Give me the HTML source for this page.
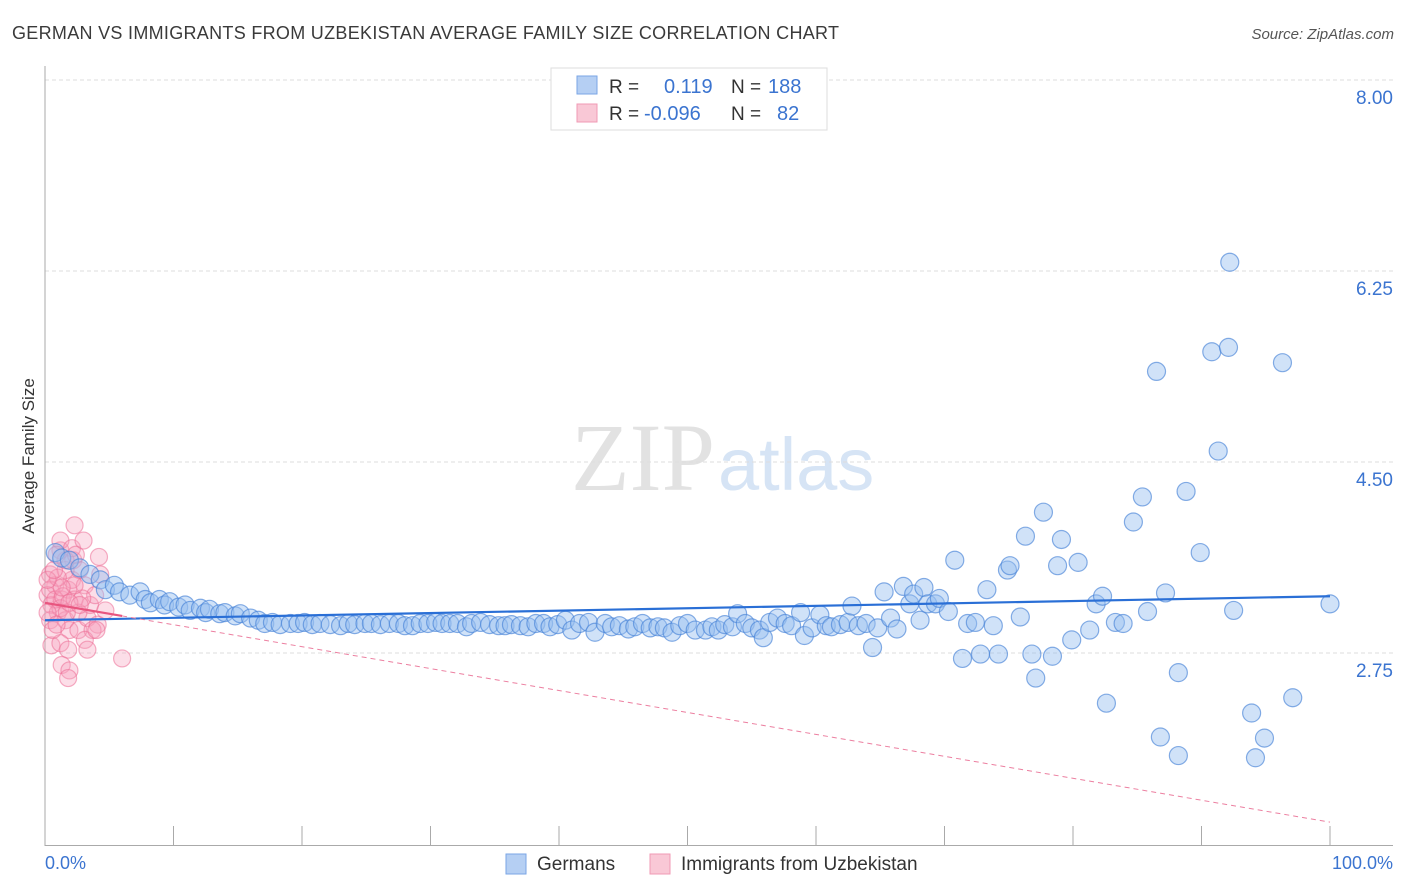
<!DOCTYPE html>
<html><head><meta charset="utf-8"><style>
body{margin:0;background:#fff;font-family:"Liberation Sans",sans-serif}
svg{display:block}
</style></head><body>
<svg width="1406" height="892" viewBox="0 0 1406 892">
<text x="12" y="39" font-size="18" fill="#3a3a3a" letter-spacing="0.3">GERMAN VS IMMIGRANTS FROM UZBEKISTAN AVERAGE FAMILY SIZE CORRELATION CHART</text>
<text x="1394" y="39" font-size="15" fill="#555" font-style="italic" text-anchor="end">Source: ZipAtlas.com</text>
<text x="715" y="490" font-size="96" fill="#e2e2e2" text-anchor="end" font-family="Liberation Serif">ZIP</text>
<text x="718" y="490" font-size="74" fill="#d6e4f5">atlas</text>
<g id="grid"></g>
<line x1="45" y1="66" x2="45" y2="846" stroke="#aaa"/>
<line x1="45" y1="845.5" x2="1393" y2="845.5" stroke="#aaa"/>
<g id="xticks"></g>
<text x="34" y="456" font-size="17" fill="#333" text-anchor="middle" transform="rotate(-90 34 456)">Average Family Size</text>
<text x="45" y="869" font-size="18" fill="#3b74d0">0.0%</text>
<text x="1393" y="869" font-size="18" fill="#3b74d0" text-anchor="end">100.0%</text>
<g id="pink"></g><g id="blue"></g><g id="trends"></g>
<g>
<rect x="551" y="68" width="276" height="62" fill="#fff" stroke="#ddd"/>
<rect x="577" y="76" width="20" height="18" fill="#b5cff3" stroke="#7aa6e6"/>
<rect x="577" y="104" width="20" height="18" fill="#f9c8d6" stroke="#f09ab4"/>
<text x="609" y="93" font-size="19" fill="#333">R =</text>
<text x="664" y="93" font-size="20" fill="#3b74d0">0.119</text>
<text x="731" y="93" font-size="19" fill="#333">N =</text>
<text x="768" y="93" font-size="20" fill="#3b74d0">188</text>
<text x="609" y="120" font-size="19" fill="#333">R =</text>
<text x="644" y="120" font-size="20" fill="#3b74d0">-0.096</text>
<text x="731" y="120" font-size="19" fill="#333">N =</text>
<text x="777" y="120" font-size="20" fill="#3b74d0">82</text>
</g>
<g>
<rect x="506" y="854" width="20" height="20" fill="#b5cff3" stroke="#7aa6e6"/>
<text x="537" y="870" font-size="19" fill="#333">Germans</text>
<rect x="650" y="854" width="20" height="20" fill="#f9c8d6" stroke="#f09ab4"/>
<text x="681" y="870" font-size="19" fill="#333">Immigrants from Uzbekistan</text>
</g>
</svg>
<script>
const yTicks=[8.00,6.25,4.50,2.75];
const yTickLabels=["8.00","6.25","4.50","2.75"];
const xTicks=[0,10,20,30,40,50,60,70,80,90,100];
const blueX=[0.8,1.3,1.9,2.7,3.5,4.3,4.7,5.4,5.8,6.6,7.4,7.8,8.2,8.9,9.3,9.7,10.4,10.9,11.3,12.1,12.5,12.8,13.6,14.0,14.8,15.2,16.0,16.6,17.1,17.7,18.3,19.1,19.7,20.2,20.8,21.4,22.2,23.0,23.6,24.1,24.9,25.4,26.1,26.8,27.5,28.0,28.6,29.2,29.8,30.4,30.9,31.5,32.1,32.8,33.2,33.9,34.6,35.3,35.8,36.3,37.0,37.6,38.2,38.8,39.3,39.9,40.5,41.0,41.6,42.3,42.8,43.6,44.1,44.7,45.4,45.9,46.5,47.1,47.7,48.2,48.8,49.4,50.0,50.6,51.4,51.9,52.4,52.9,53.5,53.9,54.5,55.0,55.6,55.9,56.4,57.0,57.6,58.1,58.8,59.1,59.7,60.3,60.8,61.2,61.9,62.5,62.8,63.3,63.9,64.4,64.8,65.3,65.8,66.3,66.8,67.3,67.6,68.1,68.4,68.7,69.3,69.6,70.3,70.8,71.4,71.8,72.4,72.8,73.3,73.8,74.2,74.9,75.1,75.9,76.3,76.8,77.1,77.7,78.4,78.8,79.1,79.9,80.4,81.3,81.8,82.3,82.6,83.3,83.9,84.7,85.4,85.8,86.5,86.8,87.2,88.2,88.2,88.8,89.9,90.8,91.3,92.1,92.2,92.5,93.9,94.2,94.9,96.3,97.1,100];
const blueY=[3.67,3.62,3.60,3.53,3.47,3.42,3.33,3.37,3.31,3.28,3.31,3.24,3.21,3.24,3.19,3.22,3.17,3.19,3.14,3.16,3.12,3.15,3.11,3.12,3.09,3.11,3.07,3.05,3.02,3.03,3.01,3.02,3.02,3.03,3.01,3.02,3.01,3.00,3.02,3.01,3.02,3.02,3.01,3.02,3.02,3.00,3.00,3.02,3.02,3.03,3.02,3.02,3.02,2.99,3.02,3.03,3.01,3.00,3.00,3.01,3.00,2.99,3.02,3.02,2.99,3.01,3.05,2.96,3.02,3.03,2.94,3.02,2.99,3.00,2.97,2.99,3.02,2.98,2.99,2.98,2.94,3.00,3.02,2.96,2.96,2.99,2.96,3.01,2.99,3.11,3.02,2.98,2.96,2.89,3.03,3.07,3.02,3.00,3.12,2.91,2.98,3.10,3.00,2.99,3.01,3.03,3.18,3.00,3.02,2.80,2.98,3.31,3.07,2.97,3.36,3.20,3.29,3.05,3.35,3.20,3.20,3.25,3.13,3.60,2.70,3.02,3.03,2.74,3.33,3.00,2.74,3.51,3.55,3.08,3.82,2.74,2.52,4.04,2.72,3.55,3.79,2.87,3.58,2.96,3.20,3.27,2.29,3.03,3.02,3.95,4.18,3.13,5.33,1.98,3.30,1.81,2.57,4.23,3.67,5.51,4.60,5.55,6.33,3.14,2.20,1.79,1.97,5.41,2.34,3.20];
const pinkX=[2.3,4.2,1.2,2.2,0.4,0.8,0.2,0.5,1.0,0.4,1.3,1.8,2.1,2.7,3.1,1.6,1.9,2.6,3.3,3.5,4.3,3.9,4.1,3.7,0.5,1.2,1.8,1.3,1.9,1.8,3.1,3.3,4.0,6.0,1.2,1.6,0.4,0.8,1.2,1.4,2.3,2.6,2.9,0.2,0.6,0.9,1.7,1.9,2.3,2.7,4.7,1.0,1.3,0.2,0.7,1.6,2.1,2.4,0.9,3.0];
const pinkY=[3.92,3.63,3.69,3.60,3.47,3.37,3.28,3.19,3.12,3.05,3.24,3.33,3.42,3.51,3.37,3.05,2.96,2.96,3.07,3.19,3.47,3.28,3.01,2.96,2.82,2.84,2.78,2.64,2.59,2.52,2.87,2.78,2.96,2.70,3.78,3.51,3.33,3.24,3.16,3.27,3.24,3.12,3.25,3.12,2.96,3.01,3.12,3.21,3.37,3.19,3.14,3.44,3.35,3.42,3.51,3.60,3.71,3.65,3.65,3.78];
const blueTrend=[[0,3.05],[100,3.27]];
const pinkTrend=[[0,3.21],[100,1.20]];
const pinkSolidEnd=6;
const NS="http://www.w3.org/2000/svg";
function xs(p){return 45+p*12.85;}
function ys(v){return 80+(8-v)*109.14;}
function mk(t,a,parent){const e=document.createElementNS(NS,t);for(const k in a)e.setAttribute(k,a[k]);parent.appendChild(e);return e;}
const grid=document.getElementById('grid');
yTicks.forEach((v,i)=>{
 const l=mk('line',{x1:45,x2:1393,y1:ys(v),y2:ys(v),stroke:'#ddd','stroke-dasharray':'4,3'},grid);
 
 
 const t=mk('text',{x:1393,y:ys(v)+24,'font-size':19,fill:'#3b74d0','text-anchor':'end'},grid);
 t.textContent=yTickLabels[i];
 
 
});
const xt=document.getElementById('xticks');
xTicks.forEach(p=>{
 const l=mk('line',{x1:xs(p),x2:xs(p),y1:826,y2:846,stroke:'#aaa'},xt);
 
 
});
const pg=document.getElementById('pink');
pinkX.forEach((p,i)=>{
 const c=mk('circle',{cx:xs(p),cy:ys(pinkY[i]),r:8.5,fill:'rgba(246,160,188,0.35)',stroke:'rgba(236,110,150,0.55)','stroke-width':1.2},pg);
 
 
});
const bg=document.getElementById('blue');
blueX.forEach((p,i)=>{
 const c=mk('circle',{cx:xs(p),cy:ys(blueY[i]),r:9,fill:'rgba(150,190,240,0.45)',stroke:'rgba(70,130,215,0.65)','stroke-width':1.2},bg);
 
 
});
const tg=document.getElementById('trends');
const bt=mk('line',{x1:xs(blueTrend[0][0]),y1:ys(blueTrend[0][1]),x2:xs(blueTrend[1][0]),y2:ys(blueTrend[1][1]),stroke:'#2a6fd6','stroke-width':2.2},tg);


const slope=(pinkTrend[1][1]-pinkTrend[0][1])/(pinkTrend[1][0]-pinkTrend[0][0]);
const pe=pinkTrend[0][1]+slope*pinkSolidEnd;
const pd=mk('line',{x1:xs(pinkSolidEnd),y1:ys(pe),x2:xs(pinkTrend[1][0]),y2:ys(pinkTrend[1][1]),stroke:'#ec7fa0','stroke-width':1,'stroke-dasharray':'5,4'},tg);


const ps=mk('line',{x1:xs(pinkTrend[0][0]),y1:ys(pinkTrend[0][1]),x2:xs(pinkSolidEnd),y2:ys(pe),stroke:'#e8557f','stroke-width':2.2},tg);


</script>
</body></html>
